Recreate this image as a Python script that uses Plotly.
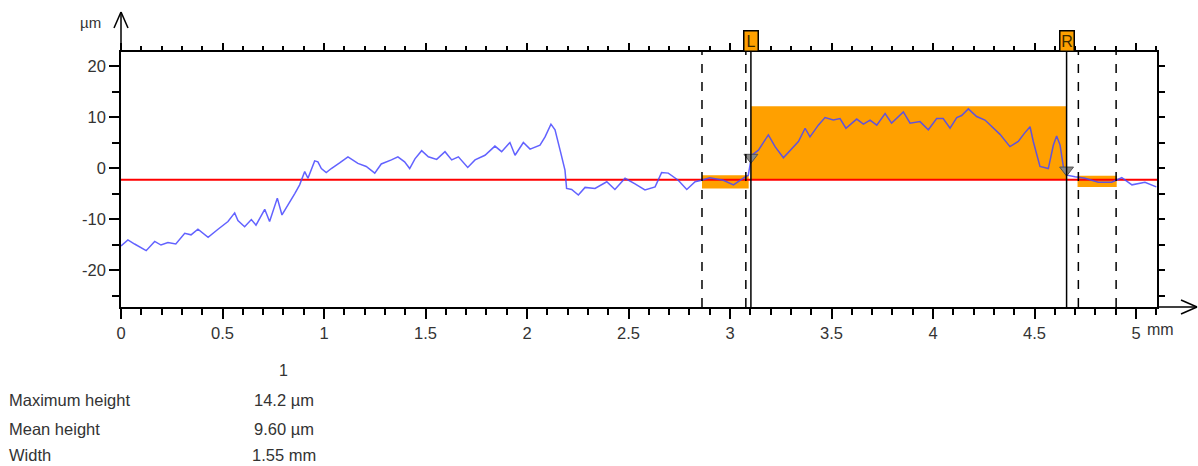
import plotly.graph_objects as go

# Surface profile: position along the trace (mm) and height (µm)
profile_x = [
    0.000, 0.034, 0.067, 0.124, 0.166, 0.197, 0.231, 0.270, 0.314, 0.345,
    0.379, 0.429, 0.478, 0.527, 0.560, 0.576, 0.609, 0.642, 0.665, 0.708,
    0.732, 0.770, 0.793, 0.823, 0.856, 0.880, 0.905, 0.921, 0.954, 0.970,
    0.987, 1.011, 1.036, 1.077, 1.118, 1.167, 1.208, 1.250, 1.282, 1.332,
    1.364, 1.397, 1.422, 1.448, 1.481, 1.514, 1.555, 1.596, 1.629, 1.662,
    1.708, 1.744, 1.793, 1.842, 1.875, 1.916, 1.941, 1.982, 2.015, 2.064,
    2.089, 2.118, 2.138, 2.163, 2.187, 2.195, 2.220, 2.253, 2.286, 2.335,
    2.393, 2.433, 2.483, 2.532, 2.581, 2.631, 2.663, 2.696, 2.745, 2.787,
    2.828, 2.860, 2.900, 2.967, 3.017, 3.066, 3.090, 3.107, 3.140, 3.189,
    3.222, 3.263, 3.296, 3.337, 3.370, 3.394, 3.435, 3.468, 3.509, 3.542,
    3.571, 3.624, 3.657, 3.690, 3.723, 3.764, 3.796, 3.854, 3.887, 3.936,
    3.977, 4.018, 4.050, 4.084, 4.117, 4.141, 4.174, 4.215, 4.256, 4.297,
    4.330, 4.379, 4.420, 4.450, 4.478, 4.494, 4.510, 4.527, 4.568, 4.593,
    4.609, 4.626, 4.642, 4.659, 4.700, 4.749, 4.814, 4.880, 4.930, 4.980,
    5.044, 5.100,
]
profile_z = [
    -15.3, -14.1, -14.9, -16.2, -14.4, -15.1, -14.6, -14.9, -12.8, -13.1,
    -12.0, -13.6, -12.0, -10.5, -8.8, -10.3, -11.5, -10.1, -11.2, -8.1,
    -10.5, -5.9, -9.2, -7.3, -5.0, -3.3, -0.7, -2.0, 1.4, 1.2,
    -0.1, -0.9, -0.1, 1.0, 2.2, 0.9, 0.3, -1.0, 0.8, 1.6,
    2.2, 1.2, -0.1, 1.8, 3.4, 2.2, 1.7, 3.2, 1.6, 2.2,
    0.1, 1.6, 2.5, 4.3, 3.2, 5.0, 2.5, 5.0, 3.7, 4.5,
    6.1, 8.6, 7.5, 3.5, -0.4, -4.0, -4.2, -5.3, -3.8, -4.0,
    -2.7, -4.2, -2.0, -3.1, -4.3, -3.7, -0.9, -1.0, -2.4, -4.2,
    -2.7, -2.4, -1.9, -2.4, -3.3, -2.0, -1.4, 2.5, 3.5, 6.5,
    4.2, 2.0, 3.5, 5.2, 7.8, 6.1, 8.4, 9.9, 9.4, 9.7,
    7.8, 9.6, 8.6, 9.4, 8.4, 10.7, 8.8, 11.0, 8.8, 9.1,
    7.5, 9.7, 9.7, 7.8, 9.9, 10.3, 11.6, 10.1, 9.4, 7.8,
    6.6, 4.2, 5.2, 6.8, 8.1, 5.2, 2.9, 0.3, -0.1, 4.5,
    6.3, 4.5, 0.3, -1.4, -1.7, -2.0, -2.8, -2.8, -1.9, -3.3,
    -2.8, -3.7,
]

# Reference level and step analysis
reference_level = -2.3
step_x = [3.103, 4.658]          # L / R cursors (mm)
step_top = 12.1                  # step height band top (µm)
ref_band_x = [[2.862, 3.092], [4.712, 4.905]]
ref_band_z = [[-1.4, -4.0], [-1.5, -3.7]]
dashed_x = [2.862, 3.078, 4.716, 4.902]
cursor_labels = ["L", "R"]
cursor_marker_z = [2.1, -0.4]

# Axis ticks
x_major = [0, 0.5, 1, 1.5, 2, 2.5, 3, 3.5, 4, 4.5, 5]
x_labels = ["0", "0.5", "1", "1.5", "2", "2.5", "3", "3.5", "4", "4.5", "5"]
y_major = [-20, -10, 0, 10, 20]
y_labels = ["-20", "-10", "0", "10", "20"]

# Result table
table_header = "1"
table_rows = ["Maximum height", "Mean height", "Width"]
table_values = ["14.2 µm", "9.60 µm", "1.55 mm"]

X_RANGE = [0, 5.1034]
Y_RANGE = [-27.25, 22.75]
ORANGE = "#ffa000"
FONT = "Liberation Sans, Arial, sans-serif"
TXT = "#333333"

# plot-area geometry in pixels (for items placed outside the axes)
L, R, T, B = 121, 1157, 52, 307


def px(xp):
    return (xp - L) / (R - L)


def py(yp):
    return (B - yp) / (B - T)


fig = go.Figure()

# dummy traces so the mirrored top / right axes are drawn
fig.add_trace(go.Scatter(x=X_RANGE, y=Y_RANGE, xaxis="x2", yaxis="y2",
                         mode="none", showlegend=False, hoverinfo="skip"))

# reference line
fig.add_trace(go.Scatter(x=X_RANGE, y=[reference_level] * 2, mode="lines",
                         line=dict(color="#ff0000", width=1.8),
                         showlegend=False, hoverinfo="skip"))

# profile
fig.add_trace(go.Scatter(x=profile_x, y=profile_z, mode="lines",
                         line=dict(color="rgba(70,70,255,0.85)", width=1.5),
                         showlegend=False))

# cursor markers on the profile
fig.add_trace(go.Scatter(x=step_x, y=cursor_marker_z, mode="markers",
                         marker=dict(symbol="triangle-down", size=12,
                                     color="#8a8a8a",
                                     line=dict(color="#555555", width=1)),
                         cliponaxis=False, showlegend=False))

shapes = []
# step band between the cursors
shapes.append(dict(type="rect", xref="x", yref="y", layer="below",
                   x0=step_x[0], x1=step_x[1], y0=reference_level, y1=step_top,
                   fillcolor=ORANGE, line=dict(width=0)))
# reference bands
for bx, bz in zip(ref_band_x, ref_band_z):
    shapes.append(dict(type="rect", xref="x", yref="y", layer="below",
                       x0=bx[0], x1=bx[1], y0=bz[0], y1=bz[1],
                       fillcolor=ORANGE, line=dict(width=0)))
# dashed reference-window limits
for dx in dashed_x:
    shapes.append(dict(type="line", xref="x", yref="paper", x0=dx, x1=dx,
                       y0=0, y1=1, line=dict(color="black", width=1.5, dash="dash")))
# solid cursor lines
for sx in step_x:
    shapes.append(dict(type="line", xref="x", yref="paper", x0=sx, x1=sx,
                       y0=0, y1=1, line=dict(color="black", width=1.5)))

# axis arrows
ax_line = dict(color="black", width=1.5)
shapes += [
    dict(type="line", xref="paper", yref="paper", x0=0, x1=0, y0=1, y1=py(12), line=ax_line),
    dict(type="line", xref="paper", yref="paper", x0=px(114), x1=0, y0=py(28), y1=py(12), line=ax_line),
    dict(type="line", xref="paper", yref="paper", x0=px(128), x1=0, y0=py(28), y1=py(12), line=ax_line),
    dict(type="line", xref="paper", yref="paper", x0=1, x1=px(1197), y0=0, y1=0, line=ax_line),
    dict(type="line", xref="paper", yref="paper", x0=px(1181), x1=px(1197), y0=py(300), y1=0, line=ax_line),
    dict(type="line", xref="paper", yref="paper", x0=px(1181), x1=px(1197), y0=py(314), y1=0, line=ax_line),
]

annotations = []
# unit labels
annotations.append(dict(text="µm", xref="paper", yref="paper", x=px(90), y=py(23),
                        xanchor="center", yanchor="middle", showarrow=False,
                        font=dict(size=15, color=TXT, family=FONT)))
annotations.append(dict(text="mm", xref="paper", yref="paper", x=px(1145), y=py(329),
                        xanchor="left", yanchor="middle", showarrow=False,
                        font=dict(size=16, color=TXT, family=FONT)))
# cursor tags
for sx, lab in zip(step_x, cursor_labels):
    annotations.append(dict(text=lab, xref="x", yref="paper", x=sx, y=1.0,
                            xanchor="center", yanchor="bottom", showarrow=False,
                            bgcolor=ORANGE, bordercolor="black", borderwidth=1.5,
                            borderpad=0, width=13, height=19,
                            font=dict(size=16, color="#3c2a00", family=FONT)))
# result table
annotations.append(dict(text=table_header, xref="paper", yref="paper",
                        x=px(283), y=py(370), xanchor="center", yanchor="middle",
                        showarrow=False, font=dict(size=16, color=TXT, family=FONT)))
row_y = [400, 429, 455]
for name, val, ypos in zip(table_rows, table_values, row_y):
    annotations.append(dict(text=name, xref="paper", yref="paper", x=px(7), y=py(ypos),
                            xanchor="left", yanchor="middle", showarrow=False,
                            font=dict(size=16.5, color=TXT, family=FONT)))
    annotations.append(dict(text=val, xref="paper", yref="paper", x=px(284), y=py(ypos),
                            xanchor="center", yanchor="middle", showarrow=False,
                            font=dict(size=16.5, color=TXT, family=FONT)))

tick_font = dict(size=16.5, color=TXT, family=FONT)

fig.update_layout(
    width=1198, height=466, autosize=False,
    margin=dict(l=L, r=1198 - R, t=T, b=466 - B, pad=0),
    paper_bgcolor="white", plot_bgcolor="white",
    showlegend=False,
    shapes=shapes, annotations=annotations,
    xaxis=dict(range=X_RANGE, tickvals=x_major, ticktext=x_labels,
               ticks="outside", ticklen=10, tickwidth=1.5, tickcolor="black",
               minor=dict(dtick=0.1, tick0=0, ticks="outside", ticklen=6,
                          tickwidth=1.5, tickcolor="black"),
               showline=True, linecolor="black", linewidth=1.5,
               showgrid=False, zeroline=False, tickfont=tick_font, fixedrange=True),
    xaxis2=dict(range=X_RANGE, overlaying="x", side="top", anchor="y",
                tickvals=x_major, showticklabels=False,
                ticks="outside", ticklen=7, tickwidth=1.5, tickcolor="black",
                minor=dict(dtick=0.1, tick0=0, ticks="outside", ticklen=4,
                           tickwidth=1.5, tickcolor="black"),
                showline=True, linecolor="black", linewidth=1.5,
                showgrid=False, zeroline=False),
    yaxis=dict(range=Y_RANGE, tickvals=y_major, ticktext=y_labels,
               ticks="outside", ticklen=10, tickwidth=1.5, tickcolor="black",
               minor=dict(dtick=5, tick0=0, ticks="outside", ticklen=7,
                          tickwidth=1.5, tickcolor="black"),
               showline=True, linecolor="black", linewidth=1.5,
               showgrid=False, zeroline=False, tickfont=tick_font, fixedrange=True),
    yaxis2=dict(range=Y_RANGE, overlaying="y", side="right", anchor="x",
                dtick=5, tick0=0, showticklabels=False,
                ticks="outside", ticklen=6, tickwidth=1.5, tickcolor="black",
                showline=True, linecolor="black", linewidth=1.5,
                showgrid=False, zeroline=False),
)

fig.write_html("out.html")
